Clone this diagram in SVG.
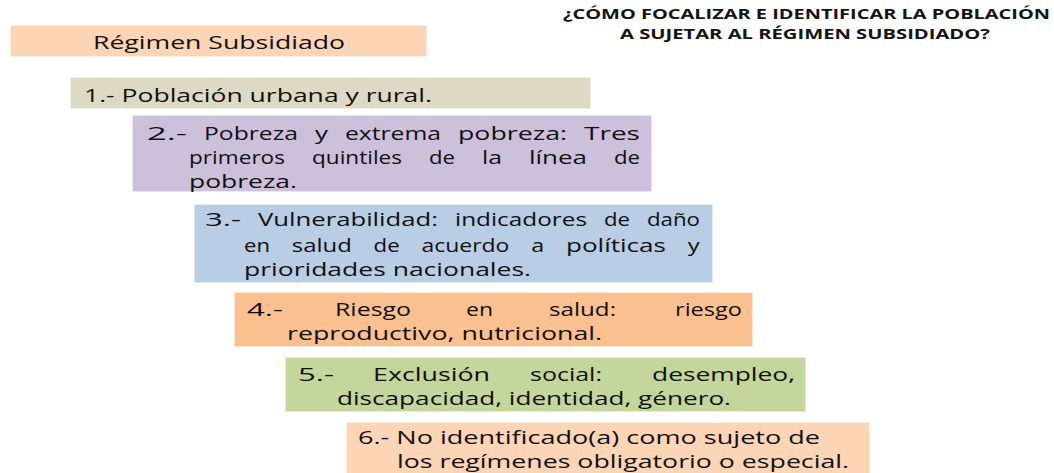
<svg xmlns="http://www.w3.org/2000/svg" width="1054" height="473" viewBox="0 0 1054 473">
<style>
.box{stroke:#ffffff;stroke-opacity:0.8;stroke-width:1.5}
.t{font-family:"Open Sans","Noto Sans",sans-serif;font-size:19px;fill:#111111}
.title{font-family:"Open Sans","Noto Sans",sans-serif;font-size:14.5px;font-weight:bold;fill:#141414}
</style>
<rect width="1054" height="473" fill="#ffffff"/>
<g id="title">
<text class="title" x="563" y="19" textLength="487" lengthAdjust="spacingAndGlyphs">¿CÓMO FOCALIZAR E IDENTIFICAR LA POBLACIÓN</text>
<text class="title" x="620" y="39" textLength="370" lengthAdjust="spacingAndGlyphs">A SUJETAR AL RÉGIMEN SUBSIDIADO?</text>
</g>
<g id="node0">
<rect class="box" x="10" y="25" width="417" height="32" fill="#FBD5B5"/>
<text class="t" x="93" y="49" textLength="252" lengthAdjust="spacingAndGlyphs">Régimen Subsidiado</text>
</g>
<g id="node1">
<rect class="box" x="70" y="77" width="521" height="32" fill="#DDD9C3"/>
<text class="t" x="84" y="102" textLength="348" lengthAdjust="spacingAndGlyphs">1.- Población urbana y rural.</text>
</g>
<g id="node2">
<rect class="box" x="132" y="115" width="520" height="77" fill="#CCC0DA"/>
<text class="t" y="140"><tspan x="147" textLength="40" lengthAdjust="spacingAndGlyphs">2.-</tspan><tspan x="204" textLength="94" lengthAdjust="spacingAndGlyphs">Pobreza</tspan><tspan x="315" textLength="13" lengthAdjust="spacingAndGlyphs">y</tspan><tspan x="345" textLength="96" lengthAdjust="spacingAndGlyphs">extrema</tspan><tspan x="458" textLength="109" lengthAdjust="spacingAndGlyphs">pobreza:</tspan><tspan x="584" textLength="56" lengthAdjust="spacingAndGlyphs">Tres</tspan></text>
<text class="t" y="164"><tspan x="189" textLength="96" lengthAdjust="spacingAndGlyphs">primeros</tspan><tspan x="312" textLength="90" lengthAdjust="spacingAndGlyphs">quintiles</tspan><tspan x="429" textLength="26" lengthAdjust="spacingAndGlyphs">de</tspan><tspan x="482" textLength="20" lengthAdjust="spacingAndGlyphs">la</tspan><tspan x="529" textLength="58" lengthAdjust="spacingAndGlyphs">línea</tspan><tspan x="614" textLength="26" lengthAdjust="spacingAndGlyphs">de</tspan></text>
<text class="t" x="189" y="188" textLength="108" lengthAdjust="spacingAndGlyphs">pobreza.</text>
</g>
<g id="node3">
<rect class="box" x="194" y="204" width="519" height="79" fill="#B9CDE5"/>
<text class="t" y="226"><tspan x="205" textLength="36" lengthAdjust="spacingAndGlyphs">3.-</tspan><tspan x="258" textLength="180" lengthAdjust="spacingAndGlyphs">Vulnerabilidad:</tspan><tspan x="455" textLength="132" lengthAdjust="spacingAndGlyphs">indicadores</tspan><tspan x="604" textLength="26" lengthAdjust="spacingAndGlyphs">de</tspan><tspan x="647" textLength="53" lengthAdjust="spacingAndGlyphs">daño</tspan></text>
<text class="t" y="252"><tspan x="244" textLength="26" lengthAdjust="spacingAndGlyphs">en</tspan><tspan x="291.8" textLength="60" lengthAdjust="spacingAndGlyphs">salud</tspan><tspan x="373.6" textLength="26" lengthAdjust="spacingAndGlyphs">de</tspan><tspan x="421.4" textLength="88" lengthAdjust="spacingAndGlyphs">acuerdo</tspan><tspan x="531.2" textLength="13" lengthAdjust="spacingAndGlyphs">a</tspan><tspan x="566" textLength="100" lengthAdjust="spacingAndGlyphs">políticas</tspan><tspan x="687.8" textLength="12" lengthAdjust="spacingAndGlyphs">y</tspan></text>
<text class="t" x="244" y="276" textLength="287" lengthAdjust="spacingAndGlyphs">prioridades nacionales.</text>
</g>
<g id="node4">
<rect class="box" x="234" y="292" width="519" height="55" fill="#FAC090"/>
<text class="t" y="316"><tspan x="247" textLength="36" lengthAdjust="spacingAndGlyphs">4.-</tspan><tspan x="335" textLength="76" lengthAdjust="spacingAndGlyphs">Riesgo</tspan><tspan x="466" textLength="27" lengthAdjust="spacingAndGlyphs">en</tspan><tspan x="549" textLength="67" lengthAdjust="spacingAndGlyphs">salud:</tspan><tspan x="675" textLength="67" lengthAdjust="spacingAndGlyphs">riesgo</tspan></text>
<text class="t" x="287" y="340" textLength="315" lengthAdjust="spacingAndGlyphs">reproductivo, nutricional.</text>
</g>
<g id="node5">
<rect class="box" x="285" y="357" width="521" height="55" fill="#C3D69B"/>
<text class="t" y="381"><tspan x="298" textLength="36" lengthAdjust="spacingAndGlyphs">5.-</tspan><tspan x="373" textLength="117" lengthAdjust="spacingAndGlyphs">Exclusión</tspan><tspan x="530" textLength="72" lengthAdjust="spacingAndGlyphs">social:</tspan><tspan x="652" textLength="143" lengthAdjust="spacingAndGlyphs">desempleo,</tspan></text>
<text class="t" x="337" y="405" textLength="394" lengthAdjust="spacingAndGlyphs">discapacidad, identidad, género.</text>
</g>
<g id="node6">
<rect class="box" x="346" y="422" width="524" height="53" fill="#FBD5B5"/>
<text class="t" x="358" y="444" textLength="462" lengthAdjust="spacingAndGlyphs">6.- No identificado(a) como sujeto de</text>
<text class="t" x="397" y="468" textLength="452" lengthAdjust="spacingAndGlyphs">los regímenes obligatorio o especial.</text>
</g>
<g id="connectors"></g>
</svg>
